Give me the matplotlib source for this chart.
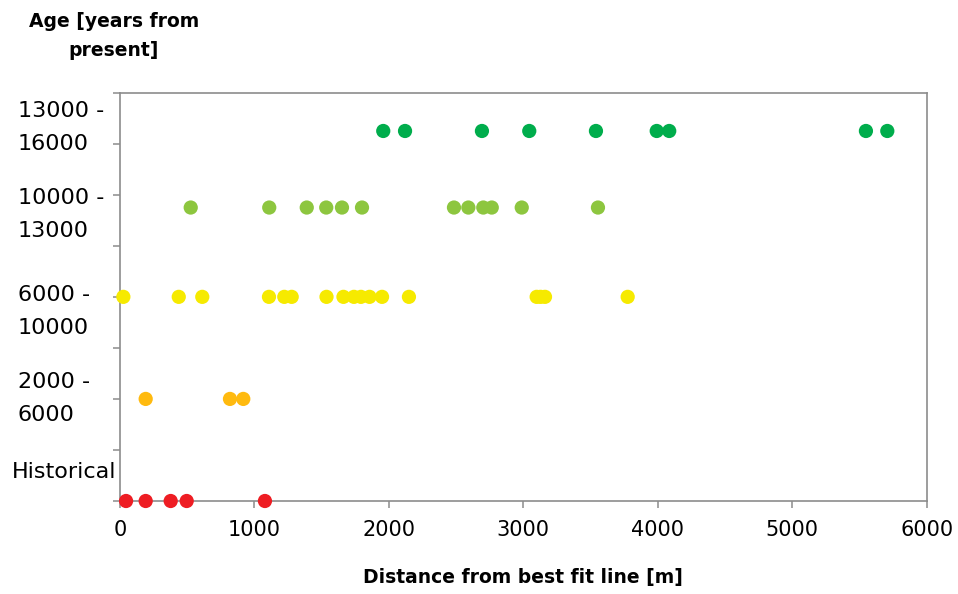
import numpy as np
import matplotlib.pyplot as plt
from matplotlib.ticker import FixedLocator, NullFormatter

# distance from best fit line [m] for each age group
hist_x = [45, 191, 377, 496, 1078]
a2_6_x = [191, 818, 917]
a6_10_x = [25, 437, 612, 1108, 1222, 1277, 1536, 1662, 1740, 1792, 1856,
           1949, 2149, 3099, 3128, 3161, 3776]
a10_13_x = [526, 1110, 1389, 1534, 1651, 1800, 2484, 2591, 2702, 2765, 2988, 3555]
a13_16_x = [1958, 2120, 2692, 3044, 3540, 3992, 4085, 5548, 5707]

# age plotted at the middle of each range [years]
group_ages = [0, 4000, 8000, 11500, 14500]
group_x = [hist_x, a2_6_x, a6_10_x, a10_13_x, a13_16_x]
group_colors = ['#EE1D23', '#FFBA0F', '#F6EA00', '#8DC63F', '#00AD4C']

age_label_pos = [1150, 4020, 7420, 11230, 14640]
age_labels = ['Historical', '2000 -\n6000', '6000 -\n10000', '10000 -\n13000', '13000 -\n16000']

plt.rcParams['font.family'] = ['DejaVu Sans']

W, H = 958, 594
fig = plt.figure(figsize=(W / 100, H / 100), dpi=100)
ax = fig.add_axes([120 / W, 1 - 501 / H, 806.7 / W, 408.3 / H])

for xs, age, col in zip(group_x, group_ages, group_colors):
    ax.scatter(xs, np.full(len(xs), age), s=105, color=col, edgecolors='none',
               zorder=3, clip_on=False)

ax.set_xlim(0, 6000)
ax.set_ylim(0, 16000)
ax.set_xticks(np.arange(0, 6001, 1000))
ax.yaxis.set_major_locator(FixedLocator(np.arange(0, 16001, 2000)))
ax.yaxis.set_major_formatter(NullFormatter())

grey = '#8C8C8C'
for sp in ax.spines.values():
    sp.set_color(grey)
    sp.set_linewidth(1.2)
ax.tick_params(axis='both', which='major', direction='out', length=5, width=1.1,
               color=grey, labelsize=15, labelcolor='black')
ax.tick_params(axis='x', pad=9)

# age range labels, left aligned outside the axis
trans = ax.get_yaxis_transform()
for pos, lab in zip(age_label_pos, age_labels):
    left_px = 12 if lab == 'Historical' else 18
    ax.text((left_px - 120) / 806.7, pos, lab, transform=trans, ha='left',
            va='center', fontsize=16, linespacing=1.85)

ax.set_xlabel('Distance from best fit line [m]', fontsize=13.5, fontweight='bold',
              labelpad=20)
fig.text(114 / W, 1 - 36 / H, 'Age [years from\npresent]', fontsize=13.5,
         fontweight='bold', ha='center', va='center', linespacing=1.7)

fig.savefig('out.png', dpi=100)
